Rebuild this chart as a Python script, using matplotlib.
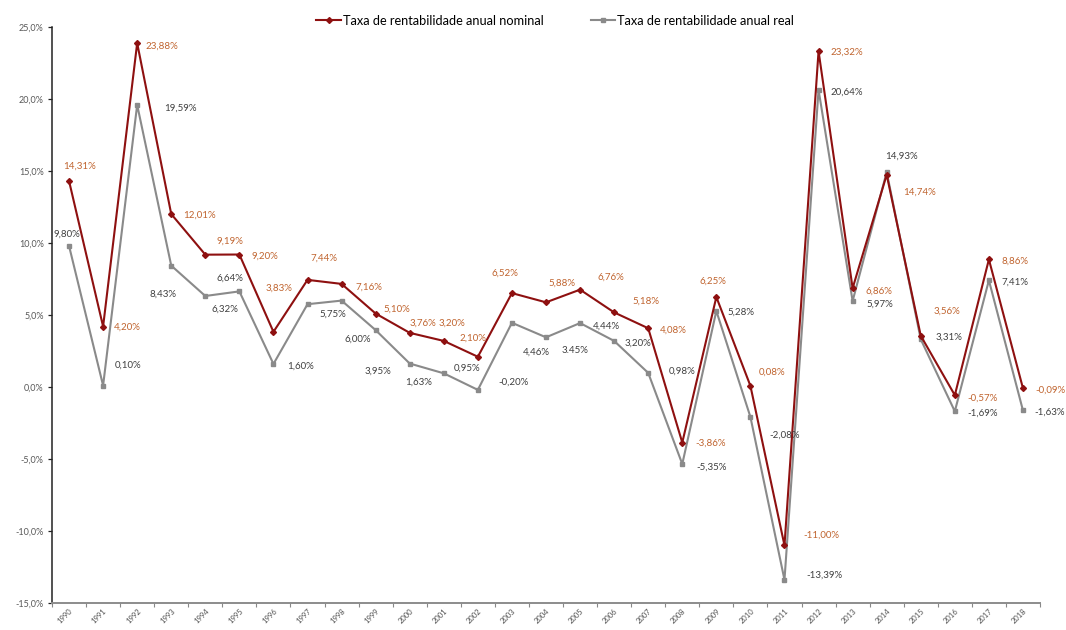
import numpy as np
import matplotlib
matplotlib.use("Agg")
import matplotlib.pyplot as plt

plt.rcParams['font.family'] = ['Lato', 'DejaVu Sans']

years = list(range(1990, 2019))

nominal = [14.31, 4.20, 23.88, 12.01, 9.19, 9.20, 3.83, 7.44, 7.16, 5.10,
           3.76, 3.20, 2.10, 6.52, 5.88, 6.76, 5.18, 4.08, -3.86, 6.25,
           0.08, -11.00, 23.32, 6.86, 14.74, 3.56, -0.57, 8.86, -0.09]

real = [9.80, 0.10, 19.59, 8.43, 6.32, 6.64, 1.60, 5.75, 6.00, 3.95,
        1.63, 0.95, -0.20, 4.46, 3.45, 4.44, 3.20, 0.98, -5.35, 5.28,
        -2.08, -13.39, 20.64, 5.97, 14.93, 3.31, -1.69, 7.41, -1.63]

series_names = ["Taxa de rentabilidade anual nominal",
                "Taxa de rentabilidade anual real"]

# label placement (pixels from the marker: right, down)
nominal_offsets = [(11, -15), (24, 1), (25, 3), (28, 1), (25, -13), (25, 2),
                   (6, -44), (16, -22), (27, 3), (21, -4), (13, -10), (8, -18),
                   (-5, -19), (-7, -20), (16, -19), (31, -12), (32, -11),
                   (25, 2), (28, 1), (-3, -16), (22, -14), (37, -10), (28, 1),
                   (26, 3), (33, 17), (26, -25), (28, 3), (26, 2), (27, 2)]
real_offsets = [(-2, -12), (25, -20), (43, 3), (-8, 29), (20, 13), (-9, -13),
                (27, 2), (25, 10), (16, 39), (2, 41), (9, 19), (23, -5),
                (36, -8), (24, 29), (29, 13), (26, 3), (24, 2), (34, -2),
                (29, 3), (25, 1), (34, 18), (40, -5), (28, 2), (27, 3),
                (15, -16), (28, -2), (28, 2), (26, 2), (27, 2)]

nominal_color = "#8E1010"
real_color = "#8A8A8A"
nominal_text = "#C0642F"
real_text = "#404040"


def pct(v, sep=","):
    return f"{v:.2f}%".replace(".", sep)


fig = plt.figure(figsize=(10.66, 6.30), dpi=100)
ax = fig.add_axes([52 / 1066, 1 - 603 / 630, 988 / 1066, 576 / 630])

x = np.arange(len(years))
l1, = ax.plot(x, nominal, color=nominal_color, lw=1.5, marker="D", ms=3.0,
              zorder=4, label=series_names[0])
l2, = ax.plot(x, real, color=real_color, lw=1.5, marker="s", ms=2.8,
              zorder=3, label=series_names[1])

for i, v in enumerate(nominal):
    dx, dy = nominal_offsets[i]
    ax.annotate(pct(v), (x[i], v), xytext=(dx, -dy), textcoords="offset pixels",
                ha="center", va="center", fontsize=7, color=nominal_text,
                zorder=5)
for i, v in enumerate(real):
    dx, dy = real_offsets[i]
    sep = "." if years[i] == 2004 else ","
    ax.annotate(pct(v, sep), (x[i], v), xytext=(dx, -dy),
                textcoords="offset pixels", ha="center", va="center",
                fontsize=7, color=real_text, zorder=5)

ax.set_xlim(-0.5, len(years) - 0.5)
ax.set_ylim(-15, 25)
yt = np.arange(-15, 26, 5)
ax.set_yticks(yt)
ax.set_yticklabels([f"{v:.1f}%".replace(".", ",") for v in yt],
                   fontsize=6.5, color="#595959")

ax.set_xticks(x)
ax.set_xticklabels(years, rotation=45, ha="right", va="top",
                   rotation_mode="anchor", fontsize=5.5, color="#505050")
ax.set_xticks(np.arange(-0.5, len(years)), minor=True)
ax.tick_params(axis="x", which="major", length=0, pad=3)
ax.tick_params(axis="x", which="minor", length=3, width=0.8, color="#888888")
ax.tick_params(axis="y", length=3, width=0.9, color="#222222", pad=3)

for s in ("top", "right"):
    ax.spines[s].set_visible(False)
ax.spines["left"].set_color("#222222")
ax.spines["left"].set_linewidth(1.1)
ax.spines["bottom"].set_color("#8C8C8C")
ax.spines["bottom"].set_linewidth(1.4)

fig.legend(handles=[l1, l2], loc="center", bbox_to_anchor=(0.5206, 0.967),
           ncol=2, frameon=False, fontsize=9.2, handlelength=1.95,
           handletextpad=0.1, columnspacing=3.7, markerscale=1.0)

fig.savefig("out.png", dpi=100)
